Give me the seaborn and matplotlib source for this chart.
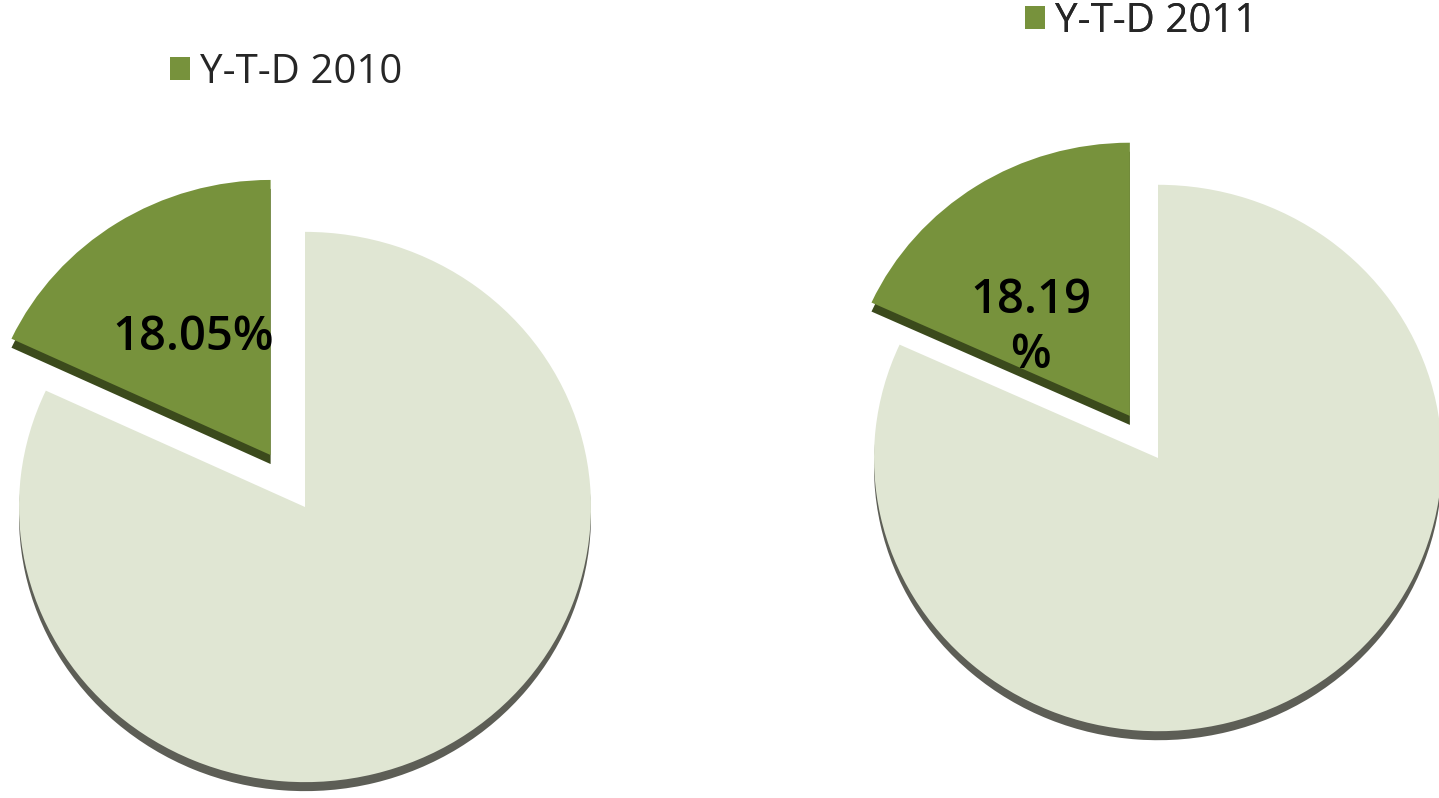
import matplotlib
matplotlib.use("Agg")
import matplotlib.pyplot as plt
import seaborn as sns

# Data
years = ["Y-T-D 2010", "Y-T-D 2011"]
shares = [18.05, 18.19]
share_labels = ["18.05%", "18.19\n%"]

# colours
GREEN = "#77923c"
LIGHT = "#e0e6d3"
GREEN_SIDE = "#3b4a1c"
LIGHT_SIDE = "#5d5e56"

W, H = 1439, 798
TILT = 0.962  # vertical squash of the tilted 3D pies

sns.set_theme(style="white")
plt.rcParams['font.family'] = ['Open Sans', 'Noto Sans', 'DejaVu Sans']

fig = plt.figure(figsize=(W / 100, H / 100), dpi=100)
ax = fig.add_axes([0, 0, 1, 1])


def ypix(y):
    # picture y (from top) -> data y
    return (H - y) / TILT


# layout for each pie: centre (px, y from top), radius, explode of green slice,
# legend anchor, label position
layouts = [
    dict(center=(305, 507), r=286, explode=64, legend=(170, 73), label=(193, 337)),
    dict(center=(1158, 458), r=284, explode=52, legend=(1025, 22), label=(1031, 328)),
]

for year, share, lab, lay in zip(years, shares, share_labels, layouts):
    cx, cy = lay['center']
    vals = [share, 100 - share]
    expl = [lay['explode'], 0]
    # side / thickness of the 3D pie
    ax.pie(vals, colors=[GREEN_SIDE, LIGHT_SIDE], startangle=90, explode=expl,
           center=(cx, ypix(cy + 9)), radius=lay['r'], frame=True,
           wedgeprops=dict(linewidth=0))
    wedges, _ = ax.pie(vals, colors=[GREEN, LIGHT], startangle=90, explode=expl,
                       center=(cx, ypix(cy)), radius=lay['r'], frame=True,
                       wedgeprops=dict(linewidth=0))
    lx, ly = lay['label']
    ax.text(lx, ypix(ly), lab, ha='center', va='center', fontsize=34,
            fontweight='semibold', color='black', linespacing=1.2)
    lgx, lgy = lay['legend']
    leg = ax.legend([wedges[0]], [year], loc='center left',
                    bbox_to_anchor=(lgx, ypix(lgy)), bbox_transform=ax.transData,
                    frameon=False, fontsize=29, handlelength=0.5, handleheight=0.5,
                    handletextpad=0.25, borderpad=0, borderaxespad=0)
    ax.add_artist(leg)

ax.set_xlim(0, W)
ax.set_ylim(0, H / TILT)
ax.set_aspect('auto')
ax.axis('off')

fig.savefig("out.png", dpi=100, facecolor='white')
